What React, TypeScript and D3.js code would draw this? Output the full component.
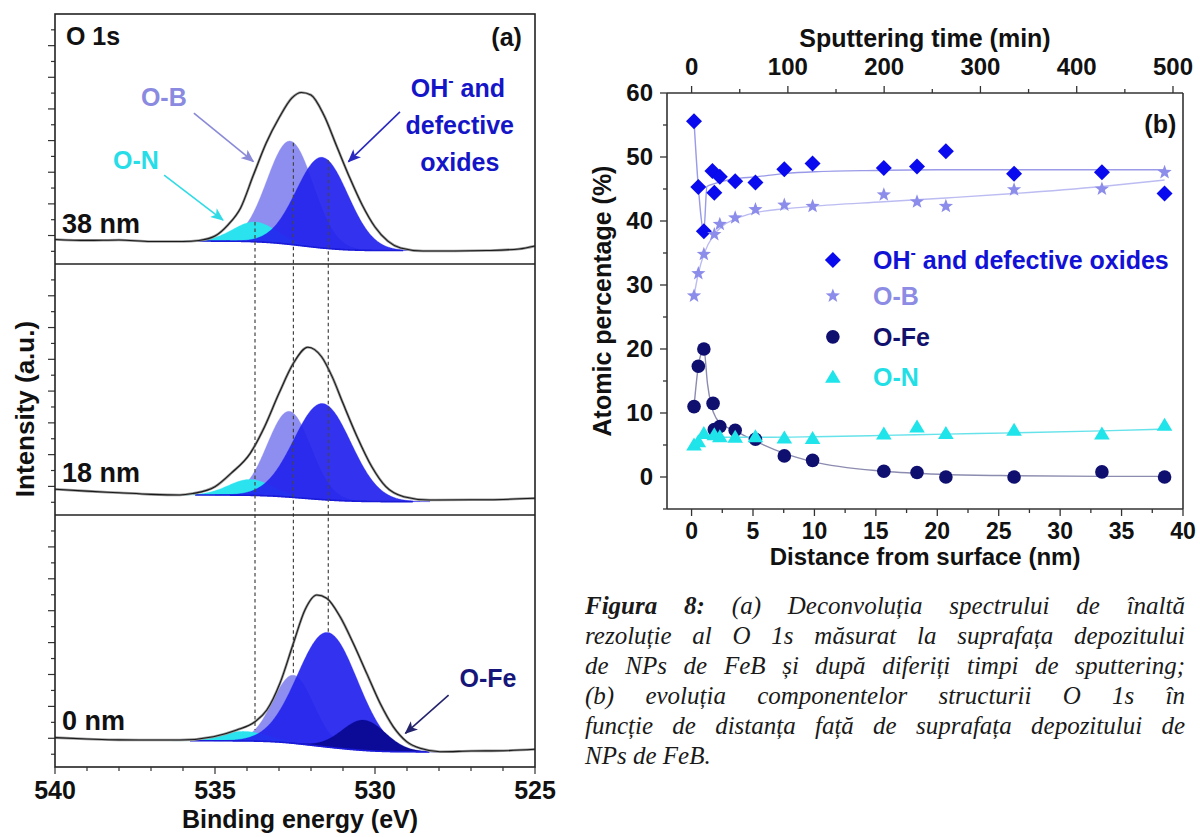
import React from 'react';
import * as d3 from 'd3';

// ================= Panel (a): O 1s spectra =================
const energyTicks = [540, 535, 530, 525];
const depthLabels = ['38 nm', '18 nm', '0 nm'];

const env38E = [540, 539, 538, 537, 536, 535.5, 535, 534.6, 534.2, 533.8, 533.4, 533.0, 532.6, 532.3, 532.0, 531.6, 531.2, 530.8, 530.4, 530.0, 529.6, 529.2, 528.5, 527.5, 526.5, 525.5, 525];
const env38I = [7.5, 6.9, 7.2, 6.2, 6.2, 6.9, 9.7, 16.6, 27.4, 48.2, 68.5, 84.3, 96.9, 100.4, 98.8, 86.2, 66.6, 47.0, 29.3, 15.4, 6.5, 2.1, 0.2, 0.2, 0.5, 1.5, 3.4];
const env18E = [540, 539, 538, 537, 536.1, 535.7, 535.0, 534.5, 533.9, 533.45, 533.0, 532.55, 532.1, 531.67, 531.34, 531.0, 530.56, 530.1, 529.66, 529.1, 528.3, 527, 526, 525];
const env18I = [8.2, 7.0, 6.0, 5.0, 4.6, 5.5, 9.8, 18.2, 30.8, 47.6, 68.6, 87.5, 97.6, 91.6, 79.1, 62.3, 41.3, 22.4, 9.8, 3.5, 1.4, 1.6, 1.8, 2.5];
const env0E = [540, 539, 538, 537, 536.1, 535.05, 534.32, 533.75, 533.38, 532.97, 532.55, 532.19, 531.82, 531.51, 531.09, 530.68, 530.26, 529.84, 529.43, 529.01, 528.59, 527.97, 527, 526, 525];
const env0I = [10.4, 9.6, 9.0, 8.9, 8.9, 11.0, 15.2, 20.4, 27.7, 44.5, 69.6, 90.4, 99.8, 97.8, 86.2, 69.6, 50.7, 31.9, 17.3, 7.9, 3.7, 1.6, 2.0, 2.2, 3.1];

// fitted components (drawing order)
const comp38Name = ['O-B', 'O-N', 'OH'];
const comp38Center = [532.65, 533.75, 531.65];
const comp38Fwhm = [1.7, 1.6, 1.9];
const comp38Height = [65.3, 12.5, 57.3];
const bg38 = [6.5, 0.5];

const comp18Name = ['O-B', 'O-N', 'OH'];
const comp18Center = [532.68, 533.9, 531.64];
const comp18Fwhm = [1.6, 1.6, 2.1];
const comp18Height = [54, 10, 60.5];
const bg18 = [4.6, 0.4];

const comp0Name = ['O-B', 'O-N', 'OH', 'O-Fe'];
const comp0Center = [532.55, 534.1, 531.48, 530.35];
const comp0Fwhm = [1.5, 1.7, 2.2, 1.6];
const comp0Height = [42.7, 6, 71.9, 19];
const bg0 = [8.5, 1.5];

const dashedEnergy = [533.75, 532.55, 531.46];
const dashedComp = ['O-N', 'O-B', 'OH'];

// ================= Panel (b): atomic percentages =================
const timeTicks = [0, 100, 200, 300, 400, 500];
const distTicks = [0, 5, 10, 15, 20, 25, 30, 35, 40];
const pctTicks = [0, 10, 20, 30, 40, 50, 60];

const distOH = [0.2, 0.55, 1.0, 1.7, 1.85, 2.3, 3.55, 5.2, 7.55, 9.85, 15.65, 18.35, 20.7, 26.25, 33.4, 38.5];
const valOH = [55.6, 45.3, 38.4, 47.8, 44.4, 46.9, 46.2, 46.0, 48.1, 49.0, 48.3, 48.5, 50.9, 47.4, 47.6, 44.3];
const distOB = [0.2, 0.55, 1.0, 1.85, 2.3, 3.55, 5.2, 7.55, 9.85, 15.65, 18.35, 20.7, 26.25, 33.4, 38.5];
const valOB = [28.3, 31.8, 34.8, 37.9, 39.5, 40.5, 41.8, 42.5, 42.3, 44.1, 43.0, 42.3, 44.9, 45.0, 47.6];
const distOFe = [0.2, 0.55, 1.0, 1.75, 1.85, 2.3, 3.55, 5.2, 7.55, 9.85, 15.65, 18.35, 20.7, 26.25, 33.4, 38.5];
const valOFe = [11.0, 17.3, 20.0, 11.5, 7.4, 7.9, 7.3, 5.9, 3.3, 2.6, 0.9, 0.7, 0.0, 0.0, 0.8, 0.0];
const distON = [0.2, 0.55, 1.0, 1.85, 2.3, 3.55, 5.2, 7.55, 9.85, 15.65, 18.35, 20.7, 26.25, 33.4, 38.5];
const valON = [5.0, 5.5, 6.8, 6.6, 6.3, 6.2, 6.3, 6.1, 6.0, 6.7, 7.8, 6.8, 7.3, 6.7, 8.1];

// fitted trend curves
const fitOHd = [0.2, 0.55, 1.0, 1.25, 1.8, 2.5, 3.5, 5.2, 7.5, 10, 15, 20, 30, 38.5];
const fitOHv = [55.6, 45.3, 38.4, 45.4, 45.8, 46.2, 46.6, 46.9, 47.4, 47.7, 47.9, 48.0, 48.0, 48.0];
const fitOBd = [0.2, 0.55, 1.0, 1.85, 2.5, 3.55, 5.2, 7.55, 9.85, 15.65, 20.7, 26.25, 33.4, 38.5];
const fitOBv = [28.3, 31.8, 34.8, 37.9, 39.2, 40.3, 41.3, 41.9, 42.3, 43.0, 43.6, 44.3, 45.4, 46.4];
const fitOFed = [0.2, 0.55, 1.0, 1.3, 1.6, 2.0, 2.5, 3.55, 5.2, 7.55, 9.85, 15.65, 20.7, 26.25, 33.4, 38.5];
const fitOFev = [11.0, 17.3, 20.0, 14.5, 11.2, 9.2, 8.2, 7.2, 5.6, 3.7, 2.4, 0.9, 0.4, 0.2, 0.1, 0.1];
const fitONd = [0.2, 0.55, 1.0, 1.5, 2.5, 5.2, 10, 15.65, 20.7, 26.25, 33.4, 38.5];
const fitONv = [5.0, 5.5, 6.4, 6.3, 6.2, 6.2, 6.3, 6.5, 6.7, 6.9, 7.2, 7.5];

const captionLines = [
  'Figura 8: (a) Deconvoluția spectrului de înaltă',
  'rezoluție al O 1s măsurat la suprafața depozitului',
  'de NPs de FeB și după diferiți timpi de sputtering;',
  '(b) evoluția componentelor structurii O 1s  în',
  'funcție de distanța față de suprafața depozitului de',
  'NPs de FeB.',
];

// ================= styles =================
const SANS = "'Liberation Sans', Arial, Helvetica, sans-serif";
const SERIF_LIST = 'Liberation Serif, Tinos, Times New Roman, Times, DejaVu Serif Condensed, serif';
const compColor: Record<string, string> = { 'O-N': '#2ae3ee', 'O-B': '#8e8ef0', OH: '#2323ee', 'O-Fe': '#0b0b98' };
const compOpacity: Record<string, number> = { 'O-N': 1, 'O-B': 1, OH: 0.93, 'O-Fe': 1 };

const AX = { left: 55, right: 535, top: 14, bottom: 767 };
const subRanges = [[14, 264], [264, 515], [515, 767]];
const BX = { left: 667, right: 1183, top: 93, bottom: 509 };

function gauss(h: number, c: number, w: number, E: number) {
  return h * Math.exp(-4 * Math.LN2 * ((E - c) / w) ** 2);
}

function buildSpectrum(names: string[], centers: number[], fwhms: number[], heights: number[], bg: number[]) {
  const grid = d3.range(525, 540.0001, 0.02);
  const comps = names.map((_, k) => grid.map((E) => gauss(heights[k], centers[k], fwhms[k], E)));
  const totals = grid.map((_, i) => d3.sum(comps, (c) => c[i]));
  let acc = 0;
  const cum = totals.map((t) => (acc += t));
  const bgv = cum.map((c) => bg[1] + ((bg[0] - bg[1]) * c) / acc);
  return { grid, comps, bgv, names };
}

let _cv: HTMLCanvasElement | null = null;
function textW(s: string, font: string) {
  if (!_cv) _cv = document.createElement('canvas');
  const ctx = _cv.getContext('2d')!;
  ctx.font = font;
  return ctx.measureText(s).width;
}

function starPath(R: number, r: number) {
  const pts: string[] = [];
  for (let i = 0; i < 10; i++) {
    const a = -Math.PI / 2 + (i * Math.PI) / 5;
    const rad = i % 2 === 0 ? R : r;
    pts.push(`${(rad * Math.cos(a)).toFixed(2)},${(rad * Math.sin(a)).toFixed(2)}`);
  }
  return 'M' + pts.join('L') + 'Z';
}

const symbols: Record<string, (c: string) => React.ReactElement> = {
  diamond: (c) => <path d="M0,-8L8,0L0,8L-8,0Z" fill={c} />,
  star: (c) => <path d={starPath(7.5, 3.1)} fill={c} />,
  circle: (c) => <circle r={6.8} fill={c} />,
  triangle: (c) => <path d="M0,-7.5L7.8,5.5L-7.8,5.5Z" fill={c} />,
};

export default function App() {
  const xE = d3.scaleLinear().domain([540, 525]).range([AX.left, AX.right]);
  const specs = [
    buildSpectrum(comp38Name, comp38Center, comp38Fwhm, comp38Height, bg38),
    buildSpectrum(comp18Name, comp18Center, comp18Fwhm, comp18Height, bg18),
    buildSpectrum(comp0Name, comp0Center, comp0Fwhm, comp0Height, bg0),
  ];
  const envs = [
    [env38E, env38I],
    [env18E, env18I],
    [env0E, env0I],
  ];
  const yIs = subRanges.map(([t, b]) => d3.scaleLinear().domain([-8, 150]).range([b, t]));

  const idxAt = (E: number) => Math.round((E - 525) / 0.02);

  // panel (b) scales
  const xD = d3.scaleLinear().domain([-2, 40]).range([BX.left, BX.right]);
  const xT = d3.scaleLinear().domain([-25.55, 510.4]).range([BX.left, BX.right]);
  const yP = d3.scaleLinear().domain([-5, 60]).range([BX.bottom, BX.top]);

  const series = [
    { name: 'OH', d: distOH, v: valOH, fd: fitOHd, fv: fitOHv, sym: 'diamond', color: '#0a0aee', line: '#9a9ae8', text: '#1212d6' },
    { name: 'O-B', d: distOB, v: valOB, fd: fitOBd, fv: fitOBv, sym: 'star', color: '#8c8ceb', line: '#bcbcf2', text: '#8c8ce4' },
    { name: 'O-Fe', d: distOFe, v: valOFe, fd: fitOFed, fv: fitOFev, sym: 'circle', color: '#0f0f70', line: '#8c8cb0', text: '#12126e' },
    { name: 'O-N', d: distON, v: valON, fd: fitONd, fv: fitONv, sym: 'triangle', color: '#1fe4ea', line: '#66e2ea', text: '#22dfe6' },
  ];
  const fitLine = d3
    .line<number[]>()
    .x((p) => xD(p[0]))
    .y((p) => yP(p[1]))
    .curve(d3.curveMonotoneX);

  // caption layout
  const capLeft = 585;
  const capRight = 1185;
  const capSize = 25;
  const capSx = 1.0;
  const capBase = 614;
  const capPitch = 30;
  const fontOf = (bold: boolean) =>
    `italic ${bold ? 'bold ' : ''}${capSize}px "Liberation Serif", Tinos, "Times New Roman", Times, "DejaVu Serif Condensed", serif`;
  const captionWords: { w: string; x: number; y: number; bold: boolean }[] = [];
  captionLines.forEach((line, li) => {
    const words = line.split(/ +/);
    const bolds = words.map((_, wi) => li === 0 && wi < 2);
    const widths = words.map((w, wi) => textW(w, fontOf(bolds[wi])) * capSx);
    const total = d3.sum(widths);
    const last = li === captionLines.length - 1;
    const gap = last ? textW(' ', fontOf(false)) * capSx : (capRight - capLeft - total) / (words.length - 1);
    let x = capLeft;
    words.forEach((w, wi) => {
      captionWords.push({ w, x, y: capBase + li * capPitch, bold: bolds[wi] });
      x += widths[wi] + gap;
    });
  });

  const yTop = yIs[0];
  const yBot = yIs[2];

  return (
    <svg
      width={1200}
      height={837}
      viewBox="0 0 1200 837"
      style={{ position: 'absolute', left: 0, top: 0, background: '#fff' }}
      fontFamily={SANS}
    >
      <defs>
        {[
          ['ahOB', '#8a8ad8'],
          ['ahON', '#30dbe6'],
          ['ahOH', '#2a2ac0'],
          ['ahOFe', '#24246e'],
        ].map(([id, c]) => (
          <marker key={id} id={id} viewBox="0 0 12 10" refX="11" refY="5" markerWidth="14" markerHeight="11" markerUnits="userSpaceOnUse" orient="auto">
            <path d="M0,0L12,5L0,10L3,5Z" fill={c} />
          </marker>
        ))}
      </defs>
      <rect x={0} y={0} width={1200} height={837} fill="#fff" />

      {/* ============ Panel (a) ============ */}
      {specs.map((s, pi) => {
        const yI = yIs[pi];
        const [eE, eI] = envs[pi];
        const envLine = d3
          .line<number>()
          .x((i) => xE(eE[i]))
          .y((i) => yI(eI[i]))
          .curve(d3.curveMonotoneX);
        const idx = d3.range(eE.length);
        const bgIdx = s.grid.map((_, i) => i).filter((i) => d3.sum(s.comps, (c) => c[i]) > 0.4);
        const bgLine = d3
          .line<number>()
          .x((i) => xE(s.grid[i]))
          .y((i) => yI(s.bgv[i]));
        return (
          <g key={pi}>
            {s.comps.map((c, k) => {
              const ids = s.grid.map((_, i) => i).filter((i) => c[i] > 0.05);
              const area = d3
                .area<number>()
                .x((i) => xE(s.grid[i]))
                .y0((i) => yI(s.bgv[i]))
                .y1((i) => yI(s.bgv[i] + c[i]));
              return (
                <path
                  key={k}
                  d={area(ids) || ''}
                  fill={compColor[s.names[k]]}
                  fillOpacity={compOpacity[s.names[k]]}
                  stroke={compColor[s.names[k]]}
                  strokeOpacity={0.5}
                  strokeWidth={0.6}
                />
              );
            })}
            <path d={bgLine(bgIdx) || ''} fill="none" stroke="#1a1ad8" strokeWidth={1.6} />
            <path d={envLine(idx) || ''} fill="none" stroke="#9a9a9a" strokeWidth={2.6} />
            <path d={envLine(idx) || ''} fill="none" stroke="#1a1a1a" strokeWidth={1.1} />
            {/* left ticks */}
            {d3.range(0, 141, 10).map((v) => {
              const major = (v / 10) % 2 === 1;
              return (
                <line key={v} x1={AX.left} x2={AX.left - (major ? 7 : 4)} y1={yI(v)} y2={yI(v)} stroke="#333" strokeWidth={1.2} />
              );
            })}
            <text x={xE(539.78)} y={yI([11.6, 12.8, 15.2][pi])} fontSize={27} fontWeight="bold" fill="#111">
              {depthLabels[pi]}
            </text>
          </g>
        );
      })}

      {/* dashed guide lines */}
      {dashedEnergy.map((E, j) => {
        const top = specs[0];
        const k = top.names.indexOf(dashedComp[j]);
        const i0 = idxAt(E);
        const y1 = yTop(top.bgv[i0] + top.comps[k][i0]);
        const bot = specs[2];
        const mx = d3.max(bot.comps, (c) => c[i0]) || 0;
        const y2 = yBot(bot.bgv[i0] + mx);
        return <line key={j} x1={xE(E)} x2={xE(E)} y1={y1} y2={y2} stroke="#444" strokeWidth={1.2} strokeDasharray="3.5,3" />;
      })}

      {/* frame */}
      <rect x={AX.left} y={AX.top} width={AX.right - AX.left} height={AX.bottom - AX.top} fill="none" stroke="#222" strokeWidth={1.6} />
      {subRanges.slice(1).map(([t], i) => (
        <line key={i} x1={AX.left} x2={AX.right} y1={t} y2={t} stroke="#222" strokeWidth={1.6} />
      ))}
      {d3.range(525, 541, 1).map((E) => {
        const major = E % 5 === 0;
        return <line key={E} x1={xE(E)} x2={xE(E)} y1={AX.bottom} y2={AX.bottom + (major ? 7 : 4)} stroke="#333" strokeWidth={1.2} />;
      })}
      {energyTicks.map((E) => (
        <text key={E} x={xE(E)} y={799} textAnchor="middle" fontSize={25} fontWeight="bold" fill="#111">
          {E}
        </text>
      ))}
      <text x={300} y={828} textAnchor="middle" fontSize={25} fontWeight="bold" fill="#111">
        Binding energy (eV)
      </text>
      <text transform="translate(25,409) rotate(-90)" textAnchor="middle" dy="0.35em" fontSize={26} fontWeight="bold" fill="#111">
        Intensity (a.u.)
      </text>

      {/* annotations in panel (a) */}
      <text x={xE(539.66)} y={yTop(130.4)} fontSize={25} fontWeight="bold" fill="#111">O 1s</text>
      <text x={xE(525.41)} y={yTop(129.8)} fontSize={25} fontWeight="bold" fill="#111" textAnchor="end">(a)</text>
      <text x={xE(536.6)} y={yTop(91.9)} fontSize={25} fontWeight="bold" fill="#8a8ae0" textAnchor="middle">O-B</text>
      <line x1={xE(535.66)} y1={yTop(87.4)} x2={xE(533.8)} y2={yTop(56.7)} stroke="#8a8ad8" strokeWidth={1.6} markerEnd="url(#ahOB)" />
      <text x={xE(537.47)} y={yTop(52)} fontSize={25} fontWeight="bold" fill="#27dde8" textAnchor="middle">O-N</text>
      <line x1={xE(536.59)} y1={yTop(48.2)} x2={xE(534.75)} y2={yTop(19.8)} stroke="#30dbe6" strokeWidth={1.6} markerEnd="url(#ahON)" />
      <text x={xE(527.41)} y={yTop(97.5)} fontSize={25} fontWeight="bold" fill="#1515c8" textAnchor="middle">
        OH<tspan dy={-11} fontSize={16}>-</tspan>
        <tspan dy={11}> and</tspan>
      </text>
      <text x={xE(527.35)} y={yTop(74.2)} fontSize={25} fontWeight="bold" fill="#1515c8" textAnchor="middle">defective</text>
      <text x={xE(527.35)} y={yTop(50.8)} fontSize={25} fontWeight="bold" fill="#1515c8" textAnchor="middle">oxides</text>
      <line x1={xE(529.22)} y1={yTop(88.1)} x2={xE(530.83)} y2={yTop(56.7)} stroke="#2a2ac0" strokeWidth={1.6} markerEnd="url(#ahOH)" />
      <text x={xE(526.47)} y={yBot(42.2)} fontSize={25} fontWeight="bold" fill="#16167a" textAnchor="middle">O-Fe</text>
      <line x1={xE(527.7)} y1={yBot(37.1)} x2={xE(529.05)} y2={yBot(13.1)} stroke="#24246e" strokeWidth={1.6} markerEnd="url(#ahOFe)" />

      {/* ============ Panel (b) ============ */}
      <line x1={BX.left} x2={BX.left} y1={BX.top} y2={BX.bottom} stroke="#333" strokeWidth={1.6} />
      <line x1={BX.right} x2={BX.right} y1={BX.top} y2={BX.bottom} stroke="#333" strokeWidth={1.6} />
      <line x1={BX.left} x2={BX.right} y1={BX.top} y2={BX.top} stroke="#333" strokeWidth={1.6} />
      <line x1={BX.left} x2={BX.right} y1={BX.bottom} y2={BX.bottom} stroke="#333" strokeWidth={1.6} />
      {d3.range(-5, 61, 5).map((v) => {
        const major = v % 10 === 0;
        return <line key={v} x1={BX.left} x2={BX.left - (major ? 7 : 4)} y1={yP(v)} y2={yP(v)} stroke="#333" strokeWidth={1.3} />;
      })}
      {pctTicks.map((v) => (
        <text key={v} x={653} y={yP(v)} dy="0.35em" textAnchor="end" fontSize={24} fontWeight="bold" fill="#111">
          {v}
        </text>
      ))}
      {d3.range(0, 40.1, 2.5).map((v) => {
        const major = v % 5 === 0;
        return <line key={v} x1={xD(v)} x2={xD(v)} y1={BX.bottom} y2={BX.bottom + (major ? 7 : 4)} stroke="#333" strokeWidth={1.3} />;
      })}
      {distTicks.map((v) => (
        <text key={v} x={xD(v)} y={539} textAnchor="middle" fontSize={23} fontWeight="bold" fill="#111">
          {v}
        </text>
      ))}
      {d3.range(0, 501, 50).map((v) => {
        const major = v % 100 === 0;
        return <line key={v} x1={xT(v)} x2={xT(v)} y1={BX.top} y2={BX.top - (major ? 7 : 4)} stroke="#333" strokeWidth={1.3} />;
      })}
      {timeTicks.map((v) => (
        <text key={v} x={xT(v)} y={75} textAnchor="middle" fontSize={24} fontWeight="bold" fill="#111">
          {v}
        </text>
      ))}
      <text x={925} y={47} textAnchor="middle" fontSize={25} fontWeight="bold" fill="#111">
        Sputtering time (min)
      </text>
      <text x={925} y={565} textAnchor="middle" fontSize={24} fontWeight="bold" fill="#111">
        Distance from surface (nm)
      </text>
      <text transform="translate(602,301) rotate(-90)" textAnchor="middle" dy="0.35em" fontSize={25} fontWeight="bold" fill="#111">
        Atomic percentage (%)
      </text>
      <text x={xD(39.45)} y={yP(53.75)} textAnchor="end" fontSize={25} fontWeight="bold" fill="#111">
        (b)
      </text>

      {series.map((s) => (
        <path
          key={'fit' + s.name}
          d={fitLine(s.fd.map((d, i) => [d, s.fv[i]])) || ''}
          fill="none"
          stroke={s.line}
          strokeWidth={1.4}
        />
      ))}
      {series.map((s) => (
        <g key={'pts' + s.name}>
          {s.d.map((d, i) => (
            <g key={i} transform={`translate(${xD(d)},${yP(s.v[i])})`}>
              {symbols[s.sym](s.color)}
            </g>
          ))}
        </g>
      ))}

      {/* legend */}
      {series.map((s, i) => {
        const yv = [33.9, 28.3, 21.9, 15.6][i];
        return (
          <g key={'leg' + s.name}>
            <g transform={`translate(${xD(11.5)},${yP(yv)})`}>{symbols[s.sym](s.color)}</g>
            <text x={xD(14.77)} y={yP(yv)} dy="0.36em" fontSize={25} fontWeight="bold" fill={s.text}>
              {s.name === 'OH' ? (
                <>
                  OH<tspan dy={-11} fontSize={16}>-</tspan>
                  <tspan dy={11}> and defective oxides</tspan>
                </>
              ) : (
                s.name
              )}
            </text>
          </g>
        );
      })}

      {/* caption */}
      {captionWords.map((w, i) => (
        <text
          key={i}
          transform={`translate(${w.x},${w.y}) scale(${capSx},1)`}
          fontFamily={SERIF_LIST}
          fontStyle="italic"
          fontWeight={w.bold ? 'bold' : 'normal'}
          fontSize={capSize}
          fill="#1a1a1a"
        >
          {w.w}
        </text>
      ))}
    </svg>
  );
}
